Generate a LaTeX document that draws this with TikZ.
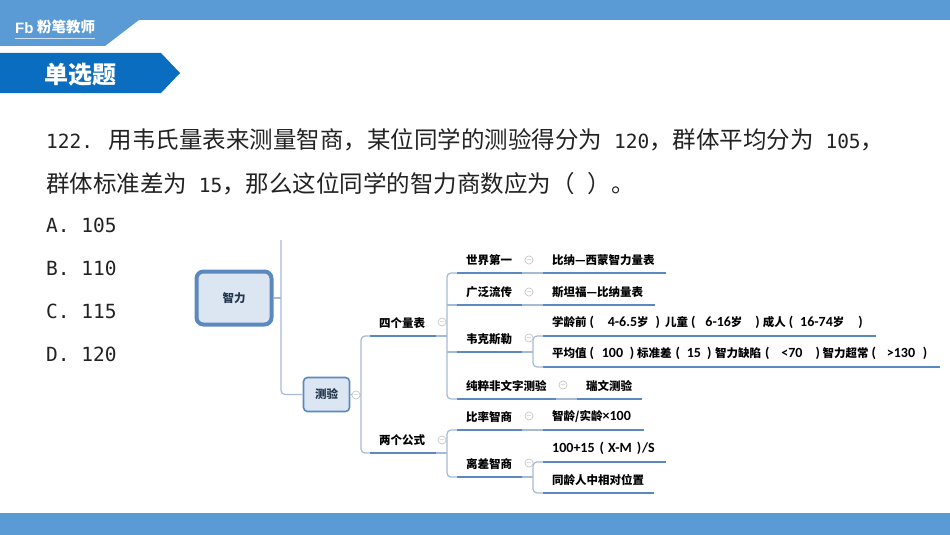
\documentclass[tikz,border=0pt]{standalone}
\usepackage{fontspec}
\setmainfont{Liberation Sans}
\newfontfamily\cjk{Noto Sans CJK SC}
\newfontfamily\latn{DejaVu Sans Mono}
\newfontfamily\cali{Carlito}
\usetikzlibrary{positioning}

\definecolor{bandblue}{HTML}{5B9BD5}
\definecolor{tabblue}{HTML}{0B6DBF}
\definecolor{mapblue}{HTML}{5B88BF}
\definecolor{mapfill}{HTML}{DCE6F2}
\definecolor{twig}{HTML}{A6BAD5}
\definecolor{darktext}{HTML}{222222}

\newcommand{\lt}[1]{{\latn\fontsize{19.5}{20}\selectfont #1}}
\newcommand{\ca}[1]{{\cali\bfseries\fontsize{14}{14}\selectfont #1}}
\newcommand{\gp}[1]{\hspace{#1pt}}

\tikzset{
	question/.style={anchor=west, inner sep=0pt, text=darktext, font=\cjk\fontsize{23.5}{24}\selectfont},
	topic/.style={anchor=south west, inner xsep=9pt, inner ysep=0pt, minimum height=26pt, align=left, text=black,
		font=\cjk\bfseries\fontsize{11.5}{13}\selectfont,
		append after command={(\tikzlastnode.south west) edge[underline] (\tikzlastnode.south east)}},
	underline/.style={draw=mapblue, line width=2.4pt},
	branch/.style={draw=twig, line width=1.2pt, rounded corners=4pt},
	fold/.style={circle, draw=black!25, fill=white, line width=.6pt, inner sep=0pt, minimum size=8pt, text=black!40, font=\fontsize{7}{7}\selectfont},
}

\begin{document}
\begin{tikzpicture}[x=1pt,y=-1pt]
	\useasboundingbox (0,0) rectangle (950,535);

	% page frame
	\fill[bandblue] (0,0) -- (950,0) -- (950,20) -- (139,20) -- (105,46) -- (0,46) -- cycle;
	\fill[bandblue] (0,513) rectangle (950,535);
	\fill[tabblue] (0,53) -- (161,53) -- (180,73) -- (161,93) -- (0,93) -- cycle;
	\node[anchor=west, inner sep=0pt, text=white, font=\bfseries\fontsize{15}{15}\selectfont] (fb) at (15,28) {Fb};
	\node[anchor=west, inner sep=0pt, text=white, font=\cjk\bfseries\fontsize{14.5}{15}\selectfont] (logo) at (37,27) {粉笔教师};
	\draw[white!70!bandblue, line width=.8pt] (fb.west |- 0,38) -- (logo.east |- 0,38);
	\node[text=white, inner sep=0pt, font=\cjk\bfseries\fontsize{24}{24}\selectfont] (title) at (80,75) {单选题};

	% question
	\node[question] (q1) at (46,140) {\lt{122. }用韦氏量表来测量智商，某位同学的测验得分为\lt{ 120}，群体平均分为\lt{ 105}，};
	\node[question] (q2) at (46,184) {群体标准差为\lt{ 15}，那么这位同学的智力商数应为（\gp{13}）。};
	\node[question] (optA) at (46,225) {\lt{A. 105}};
	\node[question] (optB) at (46,268) {\lt{B. 110}};
	\node[question] (optC) at (46,311) {\lt{C. 115}};
	\node[question] (optD) at (46,354) {\lt{D. 120}};

	% map
	\node[draw=mapblue, fill=mapfill, line width=4pt, rounded corners=7pt, minimum width=75pt, minimum height=53pt, text=black!60!mapblue, font=\cjk\bfseries\fontsize{11.5}{13}\selectfont] (zhili) at (234,298) {智力};
	\node[draw=mapblue, fill=mapfill, line width=1.6pt, rounded corners=4pt, minimum width=46pt, minimum height=34pt, text=black!60!mapblue, font=\cjk\bfseries\fontsize{11.5}{13}\selectfont] (ceyan) at (326.5,394.5) {测验};

	\node[topic, text width=48pt] (sige) at (370,336) {四个量表};
	\node[topic, text width=48pt] (liangge) at (370,453) {两个公式};

	\node[topic, text width=47pt] (shijie) at (457,273) {世界第一};
	\node[topic, text width=47pt] (guangfan) at (457,305) {广泛流传};
	\node[topic, text width=47pt] (weike) at (457,352) {韦克斯勒};
	\node[topic, text width=81pt] (chuncui) at (457,399) {纯粹非文字测验};
	\node[topic, text width=47pt] (bilv) at (457,430) {比率智商};
	\node[topic, text width=47pt] (licha) at (457,477) {离差智商};

	\node[topic, text width=105pt] (bina) at (543,273) {比纳—西蒙智力量表};
	\node[topic, text width=94pt] (sitan) at (543,305) {斯坦福—比纳量表};
	\node[topic, text width=315pt] (xueling) at (543,336) {学龄前\gp{3}\ca{(}\gp{13.8}\ca{4-6.5}岁\gp{7}\ca{)}\gp{5}儿童\gp{3}\ca{(}\gp{10}\ca{6-16}岁\gp{13}\ca{)}\gp{3}成人\gp{3}\ca{(}\gp{7}\ca{16-74}岁\gp{14}\ca{)}};
	\node[topic, text width=379pt] (pingjun) at (543,367) {平均值\gp{3}\ca{(}\gp{7.8}\ca{100}\gp{6.7}\ca{)}\gp{2.8}标准差\gp{4}\ca{(}\gp{7}\ca{15}\gp{6}\ca{)}\gp{3.8}智力缺陷\gp{4}\ca{(}\gp{11.8}\ca{<70}\gp{13}\ca{)}\gp{2.8}智力超常\gp{3}\ca{(}\gp{10.8}\ca{>130}\gp{7.7}\ca{)}};
	\node[topic, text width=47pt] (ruiwen) at (577,399) {瑞文测验};
	\node[topic, text width=83pt] (zhiling) at (543,430) {智龄/实龄\ca{×100}};
	\node[topic, text width=105pt] (gongshi) at (543,462) {\ca{100+15\gp{5}(\gp{4}X-M\gp{5})\gp{1}/S}};
	\node[topic, text width=93pt] (tongling) at (543,493) {同龄人中相对位置};

	\coordinate (topend) at (281,240);
	\coordinate (forka) at (361,395);
	\coordinate (forkb) at (447,336);
	\coordinate (forkc) at (447,453);
	\coordinate (forkd) at (533,352);
	\coordinate (forke) at (533,477);

	\draw[branch] (topend) |- (ceyan.west);
	\draw[branch] (zhili.east) -- (zhili.east -| topend);
	\draw[branch] (ceyan.east) -- (forka);
	\draw[branch] (sige.south west) -| (forka) |- (liangge.south west);
	\draw[branch] (sige.south east) -- (forkb);
	\draw[branch] (shijie.south west) -| (forkb);
	\draw[branch] (forkb) |- (chuncui.south west);
	\draw[branch] (weike.south west) -- (weike.south west -| forkb);
	\draw[branch] (liangge.south east) -- (forkc);
	\draw[branch] (bilv.south west) -| (forkc) |- (licha.south west);
	\draw[branch] (shijie.south east) -- (bina.south west);
	\draw[branch] (guangfan.south west) -- (guangfan.south west -| forkb);
	\draw[branch] (guangfan.south east) -- (sitan.south west);
	\draw[branch] (weike.south east) -- (forkd);
	\draw[branch] (xueling.south west) -| (forkd) |- (pingjun.south west);
	\draw[branch] (chuncui.south east) -- (ruiwen.south west);
	\draw[branch] (bilv.south east) -- (zhiling.south west);
	\draw[branch] (licha.south east) -- (forke);
	\draw[branch] (gongshi.south west) -| (forke) |- (tongling.south west);

	% fold marks
	\node[fold] (f1) at (356,395) {$-$};
	\node[fold] (f2) at (442,322) {$-$};
	\node[fold] (f3) at (442,440) {$-$};
	\node[fold] (f4) at (529,260) {$-$};
	\node[fold] (f5) at (529,292) {$-$};
	\node[fold] (f6) at (529,338) {$-$};
	\node[fold] (f7) at (563,385) {$-$};
	\node[fold] (f8) at (529,416) {$-$};
	\node[fold] (f9) at (529,463) {$-$};
\end{tikzpicture}
\end{document}
